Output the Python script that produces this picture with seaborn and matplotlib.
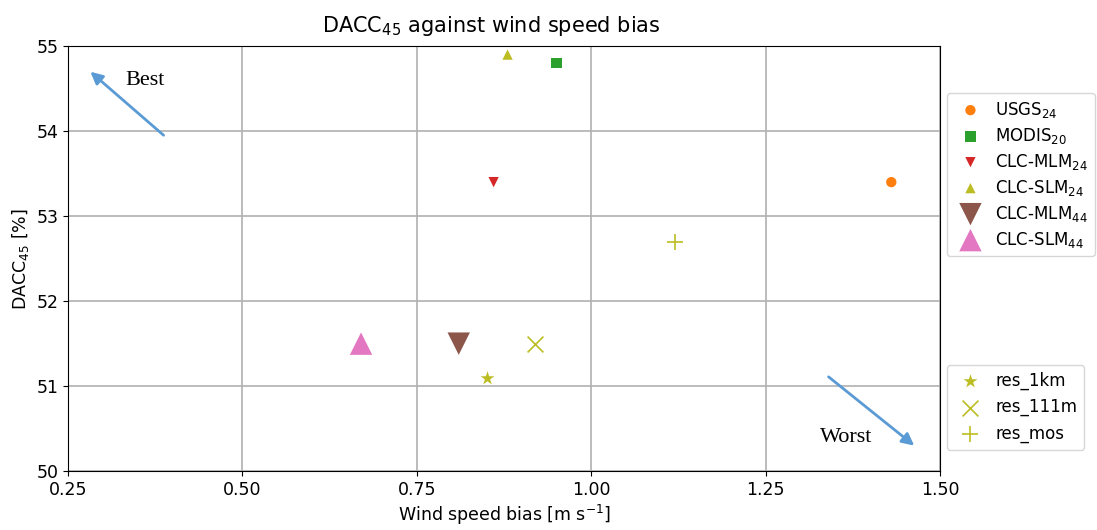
import matplotlib
matplotlib.use("Agg")
import matplotlib.pyplot as plt
import pandas as pd
import seaborn as sns

# 데이터
labels_main = ['USGS$_{24}$', 'MODIS$_{20}$', 'CLC-MLM$_{24}$', 'CLC-SLM$_{24}$', 'CLC-MLM$_{44}$', 'CLC-SLM$_{44}$']
bias_main = [1.43, 0.95, 0.86, 0.88, 0.81, 0.67]
dacc_main = [53.4, 54.8, 53.4, 54.9, 51.5, 51.5]

labels_res = ['res_1km', 'res_111m', 'res_mos']
bias_res = [0.85, 0.92, 1.12]
dacc_res = [51.1, 51.5, 52.7]

markers_main = ['o', 's', 'v', '^', 'v', '^']
colors_main = ['#ff7f0e', '#2ca02c', '#d62728', '#bcbd22', '#8c564b', '#e377c2']
sizes_main = [55, 60, 55, 55, 260, 260]

markers_res = ['*', 'x', '+']
sizes_res = [110, 130, 130]

df_main = pd.DataFrame({'bias': bias_main, 'dacc': dacc_main, 'label': labels_main})
df_res = pd.DataFrame({'bias': bias_res, 'dacc': dacc_res, 'label': labels_res})

fig = plt.figure(figsize=(10.97, 5.30), dpi=100)
ax = fig.add_axes([0.062, 0.111, 0.795, 0.802])

h_main = []
for i, row in df_main.iterrows():
    sns.scatterplot(data=df_main.iloc[[i]], x='bias', y='dacc', marker=markers_main[i],
                    color=colors_main[i], s=sizes_main[i], edgecolor='none', ax=ax, zorder=3)
    h_main.append(ax.collections[-1])

h_res = []
for i, row in df_res.iterrows():
    sns.scatterplot(data=df_res.iloc[[i]], x='bias', y='dacc', marker=markers_res[i],
                    color='#bcbd22', s=sizes_res[i], linewidth=1.2 if markers_res[i] != '*' else 0,
                    ax=ax, zorder=3)
    h_res.append(ax.collections[-1])

ax.set_xlim(0.25, 1.5)
ax.set_ylim(50, 55)
ax.set_xticks([0.25, 0.5, 0.75, 1.0, 1.25, 1.5])
ax.set_xticklabels(['0.25', '0.50', '0.75', '1.00', '1.25', '1.50'])
ax.tick_params(labelsize=12.5)
ax.grid(True, color='#b0b0b0', linewidth=1.2)
ax.set_axisbelow(True)
for sp in ax.spines.values():
    sp.set_color('black')

ax.set_title('DACC$_{45}$ against wind speed bias', fontsize=15, pad=10, x=0.485)
ax.set_xlabel('Wind speed bias [m s$^{-1}$]', fontsize=12.5, labelpad=3)
ax.set_ylabel('DACC$_{45}$ [%]', fontsize=12.5, labelpad=4)

# 화살표와 주석
ax.annotate('', xy=(0.279, 54.72), xytext=(0.390, 53.93),
            arrowprops=dict(arrowstyle='-|>', color='#5b9bd5', lw=2, mutation_scale=18))
ax.annotate('', xy=(1.466, 50.28), xytext=(1.337, 51.13),
            arrowprops=dict(arrowstyle='-|>', color='#5b9bd5', lw=2, mutation_scale=18))
ax.text(0.36, 54.6, 'Best', fontsize=16, family='Liberation Serif', ha='center', va='center')
ax.text(1.365, 50.4, 'Worst', fontsize=16, family='Liberation Serif', ha='center', va='center')

leg1 = ax.legend(h_main, labels_main, loc='upper left', bbox_to_anchor=(1.008, 0.89),
                 fontsize=12, borderaxespad=0, labelspacing=0.36, handletextpad=0.5)
ax.add_artist(leg1)
ax.legend(h_res, labels_res, loc='upper left', bbox_to_anchor=(1.008, 0.25),
          fontsize=12, borderaxespad=0, labelspacing=0.5, handletextpad=0.5)

fig.savefig('out.png', dpi=100)
